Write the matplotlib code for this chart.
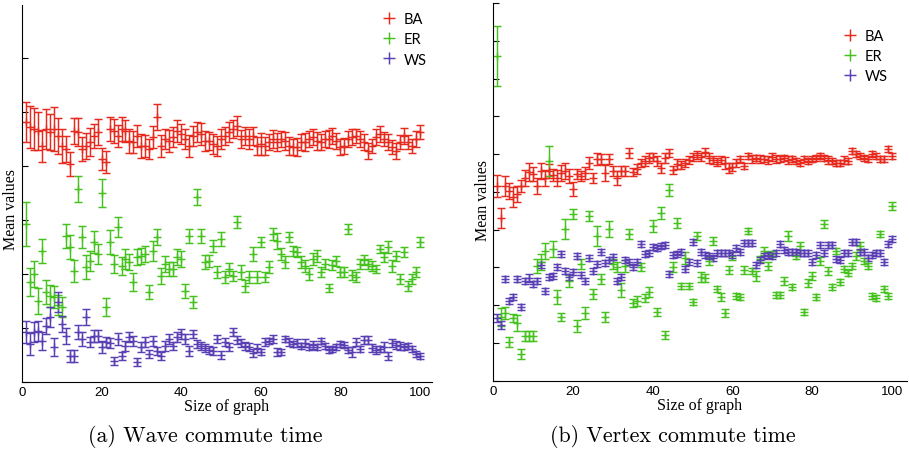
import numpy as np
import matplotlib
matplotlib.use('Agg')
from matplotlib import pyplot as plt

# graph sizes 1..100
sizes = np.arange(1, 101)

# (a) wave commute time - mean values (arbitrary units)
wave_ba = [260, 255, 253, 251, 236, 253, 250, 253, 246, 236,
           233, 218, 251, 250, 233, 236, 240, 246, 250, 223,
           220, 253, 251, 246, 253, 251, 241, 240, 246, 236,
           236, 233, 245, 265, 236, 243, 241, 245, 251, 248,
           243, 236, 246, 250, 248, 241, 241, 238, 236, 243,
           246, 250, 253, 256, 243, 246, 243, 246, 236, 238,
           236, 240, 243, 240, 243, 241, 236, 235, 235, 240,
           240, 243, 245, 241, 240, 243, 243, 246, 241, 235,
           236, 243, 245, 246, 243, 240, 231, 236, 245, 248,
           243, 240, 235, 231, 240, 246, 240, 236, 243, 250]
wave_ba_err = [20, 21, 21, 19, 16, 20, 18, 22, 18, 17,
               13, 12, 13, 14, 12, 13, 14, 12, 13, 11,
               11, 12, 12, 11, 12, 11, 12, 11, 11, 12,
               11, 10, 11, 13, 11, 10, 11, 10, 11, 10,
               10, 11, 10, 10, 11, 10, 9, 10, 10, 10,
               9, 10, 9, 10, 9, 9, 10, 9, 9, 11,
               9, 8, 9, 9, 8, 9, 9, 8, 9, 8,
               9, 8, 8, 9, 8, 8, 9, 8, 8, 8,
               8, 8, 8, 7, 8, 8, 8, 7, 8, 8,
               7, 8, 7, 8, 7, 8, 7, 7, 8, 7]

wave_er = [158, 100, 108, 81, 131, 90, 86, 85, 77, 75,
           146, 135, 111, 193, 145, 115, 121, 140, 128, 189,
           75, 140, 118, 155, 116, 123, 120, 100, 125, 126,
           128, 90, 131, 145, 106, 118, 113, 113, 125, 123,
           91, 146, 80, 185, 146, 120, 121, 136, 110, 143,
           105, 113, 106, 160, 110, 96, 105, 128, 105, 140,
           105, 115, 148, 141, 128, 120, 145, 131, 130, 120,
           116, 108, 123, 126, 110, 118, 94, 117, 121, 110,
           110, 153, 107, 105, 118, 122, 118, 116, 113, 133,
           125, 135, 116, 126, 103, 130, 96, 103, 110, 140]
wave_er_err = [22, 14, 13, 13, 12, 12, 11, 11, 10, 10,
               12, 12, 11, 13, 11, 12, 10, 11, 10, 14,
               9, 12, 9, 10, 9, 10, 8, 9, 8, 8,
               8, 7, 10, 8, 8, 8, 7, 7, 8, 8,
               7, 7, 6, 8, 7, 7, 6, 6, 6, 7,
               6, 6, 5, 6, 7, 6, 6, 7, 6, 5,
               5, 6, 6, 8, 6, 6, 5, 5, 5, 6,
               6, 6, 6, 6, 5, 5, 4, 5, 5, 5,
               5, 5, 5, 5, 5, 5, 5, 5, 4, 4,
               5, 6, 6, 5, 5, 5, 5, 5, 5, 5]

wave_ws = [50, 38, 50, 51, 41, 56, 65, 35, 80, 58,
           46, 26, 26, 50, 43, 65, 40, 46, 46, 35,
           40, 39, 21, 43, 26, 36, 45, 41, 20, 35,
           40, 28, 41, 31, 26, 36, 43, 36, 45, 48,
           43, 31, 48, 38, 36, 34, 32, 31, 43, 27,
           40, 35, 50, 42, 39, 36, 35, 29, 34, 30,
           40, 41, 43, 30, 30, 43, 40, 38, 39, 36,
           39, 35, 37, 35, 41, 36, 32, 33, 35, 38,
           37, 32, 30, 40, 33, 42, 42, 34, 32, 33,
           35, 26, 39, 37, 36, 35, 36, 33, 28, 26]
wave_ws_err = [11, 11, 10, 10, 9, 8, 10, 9, 10, 8,
               8, 6, 6, 7, 7, 8, 5, 6, 6, 6,
               5, 5, 4, 6, 4, 5, 5, 5, 4, 5,
               5, 4, 5, 4, 4, 5, 5, 4, 5, 5,
               5, 5, 4, 4, 4, 4, 4, 4, 4, 4,
               4, 4, 4, 4, 4, 4, 4, 4, 4, 3,
               4, 3, 4, 4, 3, 3, 4, 3, 4, 3,
               4, 3, 4, 3, 3, 3, 3, 3, 3, 3,
               3, 3, 5, 4, 3, 4, 4, 4, 4, 3,
               5, 4, 4, 4, 4, 3, 3, 3, 3, 3]

# (b) vertex commute time
vert_ba = [195, 163, 195, 190, 184, 187, 195, 203, 209, 207,
           195, 210, 203, 210, 206, 203, 208, 210, 205, 192,
           207, 205, 208, 218, 203, 222, 222, 208, 222, 210,
           203, 210, 210, 228, 209, 212, 218, 220, 223, 224,
           220, 213, 223, 228, 211, 217, 216, 218, 221, 224,
           226, 224, 229, 223, 221, 219, 221, 218, 213, 214,
           218, 222, 215, 225, 222, 223, 222, 222, 221, 224,
           222, 222, 223, 221, 222, 220, 218, 222, 220, 222,
           223, 225, 223, 221, 220, 218, 218, 221, 220, 230,
           227, 225, 223, 222, 227, 225, 222, 222, 232, 225]
vert_ba_err = [11, 10, 10, 8, 10, 8, 6, 8, 9, 7,
               8, 8, 8, 7, 6, 8, 8, 8, 7, 7,
               5, 5, 6, 6, 5, 6, 5, 8, 5, 5,
               7, 5, 5, 5, 4, 5, 4, 5, 5, 4,
               5, 5, 5, 4, 4, 5, 4, 4, 4, 4,
               4, 4, 4, 5, 4, 4, 4, 6, 5, 4,
               4, 3, 3, 3, 4, 3, 4, 3, 4, 4,
               4, 3, 3, 4, 3, 3, 3, 3, 3, 3,
               3, 3, 3, 4, 3, 3, 3, 4, 3, 3,
               3, 3, 3, 3, 3, 3, 3, 3, 3, 3]

vert_er = [325, 64, 68, 39, 63, 58, 27, 45, 45, 45,
           115, 119, 130, 220, 132, 84, 64, 152, 100, 167,
           55, 117, 68, 165, 87, 145, 102, 64, 152, 117,
           114, 91, 115, 147, 78, 80, 114, 83, 89, 155,
           69, 168, 46, 191, 114, 158, 95, 123, 95, 79,
           145, 104, 103, 120, 140, 92, 84, 68, 111, 125,
           85, 84, 111, 150, 110, 105, 122, 130, 115, 127,
           86, 86, 100, 145, 94, 125, 135, 69, 98, 105,
           84, 120, 157, 110, 94, 130, 99, 112, 108, 115,
           125, 135, 120, 115, 85, 83, 147, 92, 85, 175]
vert_er_err = [30, 9, 6, 5, 4, 8, 5, 5, 5, 5,
               7, 8, 8, 15, 8, 7, 4, 10, 6, 5,
               6, 5, 6, 5, 5, 10, 5, 5, 8, 5,
               5, 7, 6, 5, 4, 5, 4, 4, 5, 6,
               4, 6, 4, 6, 5, 5, 3, 6, 3, 3,
               4, 5, 4, 4, 4, 3, 4, 4, 4, 4,
               3, 3, 4, 3, 3, 5, 3, 4, 4, 3,
               3, 3, 4, 5, 3, 3, 4, 3, 4, 4,
               3, 4, 4, 4, 3, 3, 3, 3, 3, 3,
               4, 4, 3, 3, 3, 3, 3, 3, 3, 4]

vert_ws = [63, 56, 102, 80, 84, 102, 74, 100, 103, 97,
           100, 116, 90, 104, 105, 114, 127, 110, 104, 109,
           125, 106, 100, 123, 110, 117, 129, 118, 121, 124,
           100, 104, 121, 119, 114, 119, 137, 127, 128, 134,
           133, 135, 136, 107, 126, 127, 129, 112, 119, 139,
           118, 129, 126, 125, 123, 128, 128, 128, 128, 126,
           133, 129, 138, 138, 138, 116, 121, 125, 126, 125,
           128, 137, 131, 129, 129, 129, 128, 128, 128, 119,
           126, 136, 128, 136, 136, 122, 121, 128, 128, 139,
           139, 129, 129, 123, 126, 128, 128, 119, 137, 142]
vert_ws_err = [4, 4, 3, 3, 3, 3, 3, 3, 4, 3,
               3, 3, 3, 3, 3, 3, 3, 3, 3, 3,
               3, 3, 3, 3, 3, 3, 3, 3, 3, 3,
               3, 3, 3, 3, 3, 3, 3, 3, 3, 3,
               3, 3, 3, 3, 3, 3, 3, 3, 3, 3,
               3, 3, 3, 3, 3, 3, 3, 3, 3, 3,
               3, 3, 3, 3, 3, 3, 3, 3, 3, 3,
               3, 3, 3, 3, 3, 3, 3, 3, 3, 3,
               3, 3, 3, 3, 3, 3, 3, 3, 3, 3,
               3, 3, 3, 3, 3, 3, 3, 3, 3, 3]

labels = ['BA', 'ER', 'WS']
colors = ['#e62a1e', '#46c21f', '#5a3fb4']
captions = ['(a) Wave commute time', '(b) Vertex commute time']

panels = [
    ([wave_ba, wave_er, wave_ws], [wave_ba_err, wave_er_err, wave_ws_err]),
    ([vert_ba, vert_er, vert_ws], [vert_ba_err, vert_er_err, vert_ws_err]),
]

fig = plt.figure(figsize=(9.09, 4.60), dpi=100)
ax_a = fig.add_axes([22 / 909, 1 - 383 / 460, 410 / 909, 377 / 460])
ax_b = fig.add_axes([493.3 / 909, 1 - 381.7 / 460, 413.4 / 909, 377.7 / 460])
axes = [ax_a, ax_b]

limits = [(103, 377, 54), (103.7, 377.7, 37.77)]
legend_pos = [(0.859, 1.0), (0.827, 0.95)]
ylabel_pos = [(-0.008, 0.46), (-0.005, 0.48)]
caption_x = [205, 673]

for ax, (means, errs), (xmax, ymax, ystep), lpos, ypos, cx, cap in zip(
        axes, panels, limits, legend_pos, ylabel_pos, caption_x, captions):
    handles = []
    for m, e, c, lab in zip(means, errs, colors, labels):
        eb = ax.errorbar(sizes, m, yerr=e, fmt='+', color=c, ecolor=c,
                         elinewidth=1.05, capsize=3, capthick=1.05,
                         markersize=6, markeredgewidth=1.05, label=lab)
        handles.append(eb[0])

    ax.set_xlim(0, xmax)
    ax.set_ylim(0, ymax)
    ax.set_xticks([0, 20, 40, 60, 80, 100])
    ax.set_yticks(np.arange(0, ymax + 1, ystep))
    ax.set_yticklabels([])
    ax.tick_params(direction='in', length=4, width=0.8, pad=3)
    ax.tick_params(axis='x', length=0, labelsize=9.5)
    for lbl in ax.get_xticklabels():
        lbl.set_fontfamily('Liberation Sans')
    ax.spines['top'].set_visible(False)
    ax.spines['right'].set_visible(False)
    ax.set_xlabel('Size of graph', fontfamily='Liberation Serif', fontsize=11.5, labelpad=0)
    ax.set_ylabel('Mean values', fontfamily='Liberation Serif', fontsize=11.5)
    ax.yaxis.set_label_coords(*ypos)

    ax.legend(handles=handles, labels=labels, loc='upper left',
              bbox_to_anchor=lpos, frameon=False, borderpad=0,
              handlelength=1.0, handletextpad=0.5, labelspacing=0.42,
              markerscale=1.4, prop={'family': 'Lato', 'size': 10.5})

    fig.text(cx / 909, 1 - 437 / 460, cap, fontfamily='cmr10', fontsize=15.8,
             ha='center', va='center')

fig.savefig('out.png', dpi=100)
